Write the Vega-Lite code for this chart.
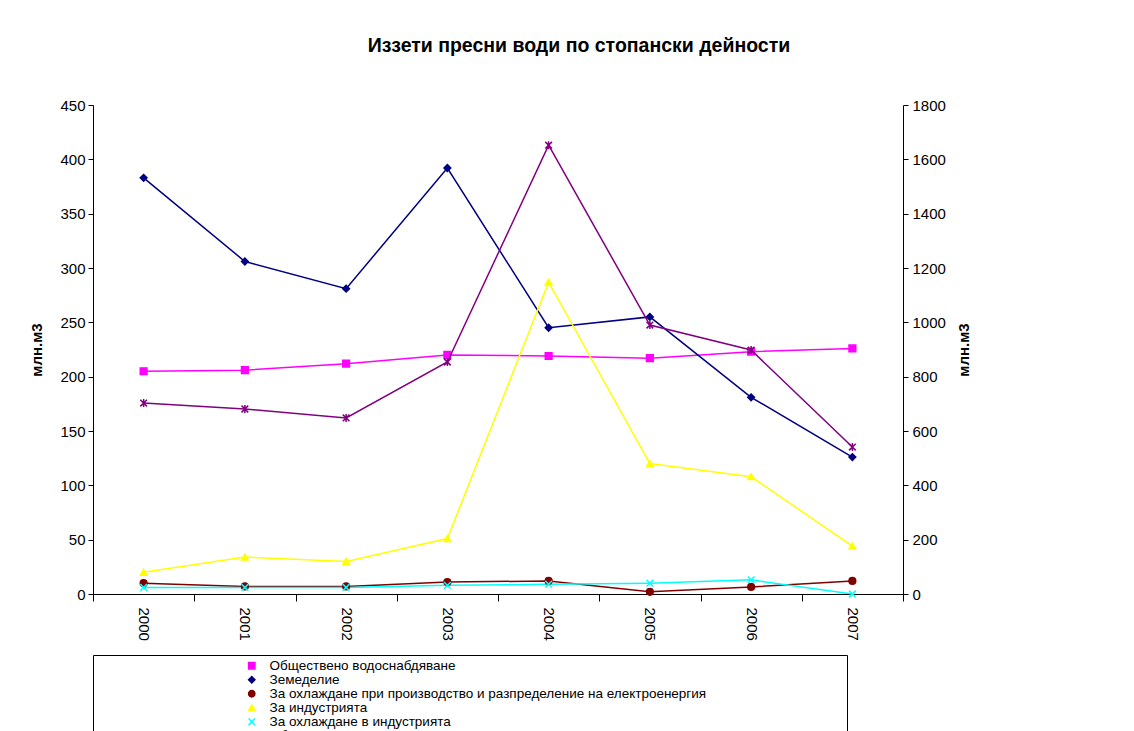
{
  "$schema": "https://vega.github.io/schema/vega-lite/v6.json",
  "autosize": {"type": "none"},
  "width": 810,
  "height": 489,
  "padding": {"left": 93, "top": 105, "right": 231, "bottom": 137},
  "background": "white",
  "title": {
    "text": "Иззети пресни води по стопански дейности",
    "font": "Liberation Sans",
    "fontSize": 19.5,
    "fontWeight": "bold",
    "color": "black",
    "anchor": "middle",
    "dx": 81,
    "offset": 42
  },
  "config": {
    "view": {"stroke": null},
    "font": "Liberation Sans",
    "axis": {
      "grid": false,
      "domainColor": "black",
      "tickColor": "black",
      "labelColor": "black",
      "labelFont": "Liberation Sans",
      "labelFontSize": 15,
      "titleColor": "black",
      "titleFont": "Liberation Sans"
    }
  },
  "data": {
    "values": [
      {"year": "2000", "series": "Обществено водоснабдяване", "axis": "left", "value": 205},
      {"year": "2001", "series": "Обществено водоснабдяване", "axis": "left", "value": 206},
      {"year": "2002", "series": "Обществено водоснабдяване", "axis": "left", "value": 212},
      {"year": "2003", "series": "Обществено водоснабдяване", "axis": "left", "value": 220},
      {"year": "2004", "series": "Обществено водоснабдяване", "axis": "left", "value": 219},
      {"year": "2005", "series": "Обществено водоснабдяване", "axis": "left", "value": 217},
      {"year": "2006", "series": "Обществено водоснабдяване", "axis": "left", "value": 223},
      {"year": "2007", "series": "Обществено водоснабдяване", "axis": "left", "value": 226},
      {"year": "2000", "series": "Земеделие", "axis": "left", "value": 383},
      {"year": "2001", "series": "Земеделие", "axis": "left", "value": 306},
      {"year": "2002", "series": "Земеделие", "axis": "left", "value": 281},
      {"year": "2003", "series": "Земеделие", "axis": "left", "value": 392},
      {"year": "2004", "series": "Земеделие", "axis": "left", "value": 245},
      {"year": "2005", "series": "Земеделие", "axis": "left", "value": 255},
      {"year": "2006", "series": "Земеделие", "axis": "left", "value": 181},
      {"year": "2007", "series": "Земеделие", "axis": "left", "value": 126},
      {"year": "2000", "series": "За охлаждане при производство и разпределение на електроенергия", "axis": "left", "value": 10},
      {"year": "2001", "series": "За охлаждане при производство и разпределение на електроенергия", "axis": "left", "value": 7},
      {"year": "2002", "series": "За охлаждане при производство и разпределение на електроенергия", "axis": "left", "value": 7},
      {"year": "2003", "series": "За охлаждане при производство и разпределение на електроенергия", "axis": "left", "value": 11},
      {"year": "2004", "series": "За охлаждане при производство и разпределение на електроенергия", "axis": "left", "value": 12},
      {"year": "2005", "series": "За охлаждане при производство и разпределение на електроенергия", "axis": "left", "value": 2},
      {"year": "2006", "series": "За охлаждане при производство и разпределение на електроенергия", "axis": "left", "value": 6.5},
      {"year": "2007", "series": "За охлаждане при производство и разпределение на електроенергия", "axis": "left", "value": 12},
      {"year": "2000", "series": "За индустрията", "axis": "left", "value": 20},
      {"year": "2001", "series": "За индустрията", "axis": "left", "value": 34},
      {"year": "2002", "series": "За индустрията", "axis": "left", "value": 30},
      {"year": "2003", "series": "За индустрията", "axis": "left", "value": 51},
      {"year": "2004", "series": "За индустрията", "axis": "left", "value": 287},
      {"year": "2005", "series": "За индустрията", "axis": "left", "value": 120},
      {"year": "2006", "series": "За индустрията", "axis": "left", "value": 108},
      {"year": "2007", "series": "За индустрията", "axis": "left", "value": 44},
      {"year": "2000", "series": "За охлаждане в индустрията", "axis": "left", "value": 6},
      {"year": "2001", "series": "За охлаждане в индустрията", "axis": "left", "value": 6},
      {"year": "2002", "series": "За охлаждане в индустрията", "axis": "left", "value": 6},
      {"year": "2003", "series": "За охлаждане в индустрията", "axis": "left", "value": 8},
      {"year": "2004", "series": "За охлаждане в индустрията", "axis": "left", "value": 9},
      {"year": "2005", "series": "За охлаждане в индустрията", "axis": "left", "value": 10},
      {"year": "2006", "series": "За охлаждане в индустрията", "axis": "left", "value": 13},
      {"year": "2007", "series": "За охлаждане в индустрията", "axis": "left", "value": 0},
      {"year": "2000", "series": "Общо", "axis": "right", "value": 703},
      {"year": "2001", "series": "Общо", "axis": "right", "value": 681},
      {"year": "2002", "series": "Общо", "axis": "right", "value": 648},
      {"year": "2003", "series": "Общо", "axis": "right", "value": 854},
      {"year": "2004", "series": "Общо", "axis": "right", "value": 1652},
      {"year": "2005", "series": "Общо", "axis": "right", "value": 990},
      {"year": "2006", "series": "Общо", "axis": "right", "value": 898},
      {"year": "2007", "series": "Общо", "axis": "right", "value": 541}
    ]
  },
  "encoding": {
    "x": {
      "field": "year",
      "type": "ordinal",
      "scale": {"type": "band", "paddingInner": 0, "paddingOuter": 0},
      "axis": {
        "title": null,
        "labelAngle": 90,
        "tickBand": "extent",
        "tickSize": 7,
        "labelPadding": 6
      }
    },
    "color": {
      "field": "series",
      "type": "nominal",
      "scale": {
        "domain": ["Обществено водоснабдяване", "Земеделие", "За охлаждане при производство и разпределение на електроенергия", "За индустрията", "За охлаждане в индустрията", "Общо"],
        "range": ["#FF00FF", "#000080", "#800000", "#FFFF00", "#00FFFF", "#800080"]
      },
      "legend": {
        "title": " ",
        "titleOrient": "right",
        "titlePadding": 137,
        "orient": "none",
        "legendX": 0,
        "legendY": 550,
        "direction": "vertical",
        "strokeColor": "black",
        "fillColor": "white",
        "padding": 4,
        "symbolOffset": 148,
        "labelOffset": 11,
        "labelFontSize": 13.5,
        "labelFont": "Liberation Sans",
        "labelColor": "black",
        "labelLimit": 700,
        "rowPadding": -2,
        "symbolSize": 40,
        "symbolStrokeWidth": 1.5
      }
    }
  },
  "layer": [
    {
      "transform": [{"filter": "datum.axis == 'left'"}],
      "encoding": {
        "y": {
          "field": "value",
          "type": "quantitative",
          "scale": {"domain": [0, 450], "nice": false},
          "axis": {
            "orient": "left",
            "values": [0, 50, 100, 150, 200, 250, 300, 350, 400, 450],
            "format": "d",
            "title": "млн.м3",
            "titleFontSize": 15,
            "titleFontWeight": "bold",
            "titlePadding": 15,
            "tickSize": 5,
            "labelPadding": 3
          }
        }
      },
      "layer": [
        {"mark": {"type": "line", "strokeWidth": 1.5}},
        {
          "mark": {"type": "point", "filled": true, "size": 45, "opacity": 1, "strokeWidth": 1.5},
          "encoding": {
            "shape": {
              "field": "series",
              "type": "nominal",
              "scale": {
                "domain": ["Обществено водоснабдяване", "Земеделие", "За охлаждане при производство и разпределение на електроенергия", "За индустрията", "За охлаждане в индустрията", "Общо"],
                "range": ["square", "diamond", "circle", "triangle-up", "M-1,-1L1,1M-1,1L1,-1", "M-1,-1L1,1M-1,1L1,-1M0,-1.2L0,1.2"]
              }
            },
            "stroke": {
              "field": "series",
              "type": "nominal",
              "scale": {
                "domain": ["Обществено водоснабдяване", "Земеделие", "За охлаждане при производство и разпределение на електроенергия", "За индустрията", "За охлаждане в индустрията", "Общо"],
                "range": ["#FF00FF", "#000080", "#800000", "#FFFF00", "#00FFFF", "#800080"]
              }
            }
          }
        }
      ]
    },
    {
      "transform": [{"filter": "datum.axis == 'right'"}],
      "encoding": {
        "y": {
          "field": "value",
          "type": "quantitative",
          "scale": {"domain": [0, 1800], "nice": false},
          "axis": {
            "orient": "right",
            "values": [0, 200, 400, 600, 800, 1000, 1200, 1400, 1600, 1800],
            "format": "d",
            "title": "млн.м3",
            "titleFontSize": 15,
            "titleFontWeight": "bold",
            "titlePadding": 26,
            "titleAngle": 270,
            "tickSize": 5,
            "labelPadding": 4
          }
        }
      },
      "layer": [
        {"mark": {"type": "line", "strokeWidth": 1.5}},
        {
          "mark": {"type": "point", "filled": true, "size": 45, "opacity": 1, "strokeWidth": 1.5},
          "encoding": {
            "shape": {
              "field": "series",
              "type": "nominal"
            },
            "stroke": {
              "field": "series",
              "type": "nominal"
            }
          }
        }
      ]
    }
  ],
  "resolve": {"scale": {"y": "independent"}}
}
